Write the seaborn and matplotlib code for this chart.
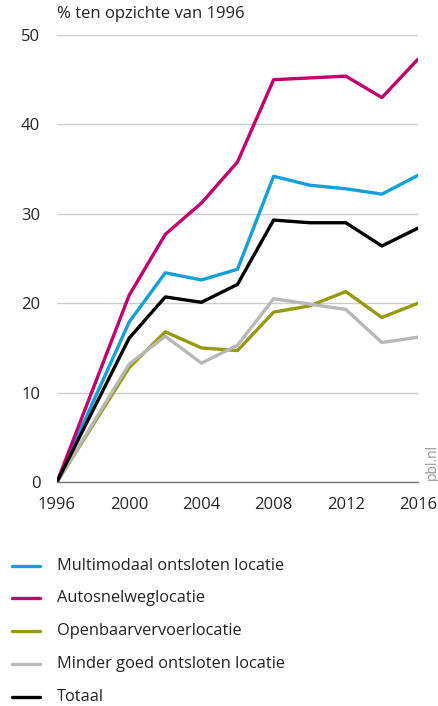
import pandas as pd
import matplotlib.pyplot as plt
import seaborn as sns

# data
jaren = [1996, 2000, 2002, 2004, 2006, 2008, 2010, 2012, 2014, 2016]
multimodaal = [0, 17.9, 23.4, 22.6, 23.8, 34.2, 33.2, 32.8, 32.2, 34.3]
autosnelweg = [0, 20.9, 27.7, 31.2, 35.8, 45.0, 45.2, 45.4, 43.0, 47.3]
openbaarvervoer = [0, 12.8, 16.8, 15.0, 14.7, 19.0, 19.7, 21.3, 18.4, 20.0]
minder_goed = [0, 13.2, 16.3, 13.3, 15.3, 20.5, 19.9, 19.3, 15.6, 16.2]
totaal = [0, 16.1, 20.7, 20.1, 22.1, 29.3, 29.0, 29.0, 26.4, 28.4]

namen = ["Multimodaal ontsloten locatie", "Autosnelweglocatie",
         "Openbaarvervoerlocatie", "Minder goed ontsloten locatie", "Totaal"]
kleuren = ["#12a0dc", "#c2006c", "#959a0a", "#b8b8b8", "#000000"]
reeksen = [multimodaal, autosnelweg, openbaarvervoer, minder_goed, totaal]

df = pd.DataFrame({
    "Jaar": jaren * len(namen),
    "Waarde": sum(reeksen, []),
    "Locatie": [n for n in namen for _ in jaren],
})

sns.set_style("white")
plt.rcParams["font.family"] = ["Open Sans", "DejaVu Sans"]

fig = plt.figure(figsize=(4.38, 7.06), dpi=100)
ax = fig.add_axes([57 / 438, 1 - 482 / 706, 361 / 438, 447 / 706])

sns.lineplot(data=df, x="Jaar", y="Waarde", hue="Locatie", hue_order=namen,
             palette=kleuren, linewidth=2.4, ax=ax, legend=False)

ax.set_xlim(1996, 2016)
ax.set_ylim(0, 50)
ax.set_yticks([0, 10, 20, 30, 40, 50])
ax.set_xticks([1996, 2000, 2004, 2008, 2012, 2016])
ax.set_xticks(range(1996, 2017, 2), minor=True)
ax.set_xlabel("")
ax.set_ylabel("")
ax.yaxis.grid(True, color="#cccccc", linewidth=1)
for s in ["top", "right", "left"]:
    ax.spines[s].set_visible(False)
ax.spines["bottom"].set_color("#777777")
ax.spines["bottom"].set_linewidth(1)
ax.tick_params(axis="x", which="both", direction="out", length=6, width=1,
               color="#777777", labelsize=12, pad=5)
ax.tick_params(axis="y", length=0, labelsize=12, pad=12)
ax.set_axisbelow(True)

fig.text(57 / 438, 1 - 14 / 706, "% ten opzichte van 1996", fontsize=12,
         va="center", ha="left", color="#222222")
fig.text(432 / 438, 1 - 462 / 706, "pbl.nl", fontsize=10, rotation=90,
         va="center", ha="center", color="#999999")

# legenda onder de figuur
rij_y = [566, 598, 631, 664, 697]
for naam, kleur, y in zip(namen, kleuren, rij_y):
    fig.add_artist(plt.Line2D([12 / 438, 40 / 438], [1 - y / 706, 1 - y / 706],
                              color=kleur, linewidth=2.4))
    fig.text(57 / 438, 1 - y / 706, naam, fontsize=11.8, va="center",
             ha="left", color="#222222")

fig.savefig("out.png", dpi=100)
